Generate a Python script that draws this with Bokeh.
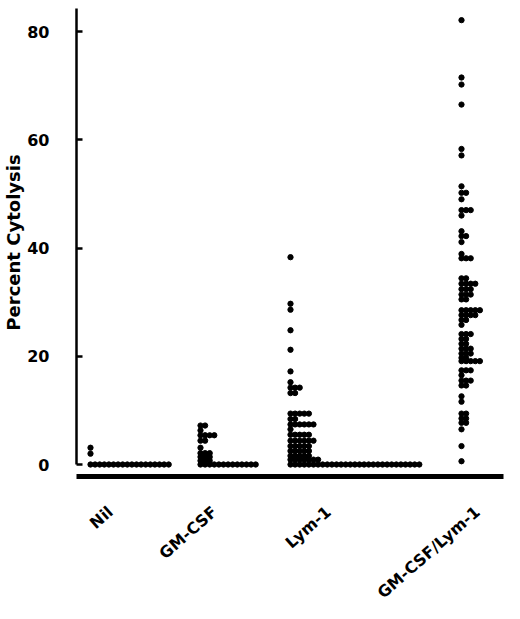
from bokeh.plotting import figure
from bokeh.models import Range1d, FixedTicker
from bokeh.embed import file_html
from bokeh.resources import INLINE

# ---- data: each row = value, number of dots at that value
categories = ["Nil", "GM-CSF", "Lym-1", "GM-CSF/Lym-1"]

nil_values = [3.1, 2.0, 0.0]
nil_counts = [1, 1, 18]

gm_values = [7.2, 6.3, 5.4, 4.4, 3.1, 2.1, 1.4, 0.7, 0.0]
gm_counts = [2, 1, 4, 2, 1, 3, 3, 3, 13]

lym_values = [38.3, 29.7, 28.6, 24.8, 21.2, 17.2, 15.2, 14.2, 13.2, 9.4, 8.4,
              7.4, 6.5, 5.5, 4.4, 3.4, 2.5, 1.6, 0.9, 0.0]
lym_counts = [1, 1, 1, 1, 1, 1, 1, 3, 2, 5, 2,
              6, 1, 5, 6, 5, 5, 5, 7, 29]

combo_values = [82.1, 71.5, 70.2, 66.5, 58.3, 57.1, 51.4, 50.2, 49.0, 47.0, 46.0,
                43.1, 42.2, 41.1, 38.9, 38.1, 34.4, 33.4, 32.4, 31.4, 30.5,
                28.5, 27.6, 26.7, 25.8, 24.1, 23.2, 22.3, 21.4, 20.5, 19.7, 19.1,
                17.4, 16.5, 15.5, 14.6, 12.6, 11.6, 9.4, 8.5, 7.7, 6.5, 3.4, 0.6]
combo_counts = [1, 1, 1, 1, 1, 1, 1, 2, 1, 3, 1,
                1, 2, 1, 1, 3, 2, 4, 3, 3, 2,
                5, 4, 2, 1, 3, 2, 2, 3, 3, 2, 5,
                3, 1, 3, 2, 1, 1, 2, 2, 2, 1, 1, 1]

y_ticks = [0, 20, 40, 60, 80]

# ---- layout (horizontal units = frame pixels)
group_start = [14, 124, 214, 385]
label_anchor = [34, 138, 252, 401]
dot_step = 4.6

groups = [(nil_values, nil_counts), (gm_values, gm_counts),
          (lym_values, lym_counts), (combo_values, combo_counts)]

xs, ys = [], []
for start, (vals, cnts) in zip(group_start, groups):
    for v, c in zip(vals, cnts):
        for k in range(c):
            xs.append(start + k * dot_step)
            ys.append(v)

p = figure(frame_width=427, frame_height=468,
           x_range=Range1d(0, 427), y_range=Range1d(-2.217, 84.25),
           output_backend="svg", toolbar_location=None,
           min_border_left=70, min_border_right=7, min_border_top=8, min_border_bottom=5)
p.outline_line_color = None
p.grid.grid_line_color = None
p.background_fill_color = "white"
p.border_fill_color = "white"

p.scatter(xs, ys, size=5.3, color="black")

# y axis
ya = p.yaxis[0]
ya.ticker = FixedTicker(ticks=y_ticks)
ya.bounds = (0, 84.25)
ya.axis_line_width = 2.5
ya.axis_line_color = "black"
ya.major_tick_line_width = 2.5
ya.major_tick_in = 6
ya.major_tick_out = 0
ya.minor_tick_line_color = None
ya.major_label_text_font = "DejaVu Sans"
ya.major_label_text_font_style = "bold"
ya.major_label_text_font_size = "16px"
ya.major_label_text_color = "black"
ya.major_label_standoff = 27
ya.axis_label = "Percent Cytolysis"
ya.axis_label_text_font = "DejaVu Sans"
ya.axis_label_text_font_style = "bold"
ya.axis_label_text_font_size = "18px"
ya.axis_label_text_color = "black"
ya.axis_label_standoff = 0

# x axis
xa = p.xaxis[0]
xa.ticker = FixedTicker(ticks=label_anchor)
xa.major_label_overrides = {pos: name for pos, name in zip(label_anchor, categories)}
xa.axis_line_width = 5
xa.axis_line_color = "black"
xa.major_tick_line_color = None
xa.major_tick_in = 0
xa.major_tick_out = 0
xa.minor_tick_line_color = None
xa.major_label_orientation = 0.72
xa.major_label_standoff = 33
xa.major_label_text_font = "DejaVu Sans"
xa.major_label_text_font_style = "bold"
xa.major_label_text_font_size = "16px"
xa.major_label_text_color = "black"

open("out.html", "w").write(file_html(p, INLINE))
